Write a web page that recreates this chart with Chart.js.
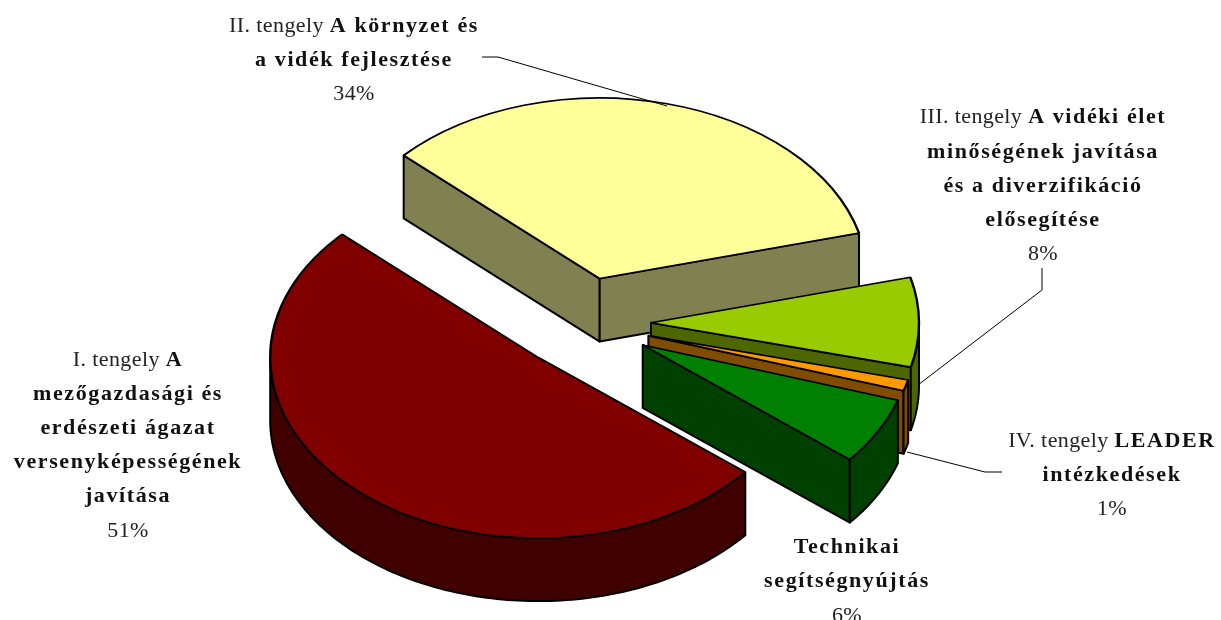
<!DOCTYPE html>
<html><head><meta charset="utf-8">
<style>html,body{margin:0;padding:0;background:#fff}#w{position:relative;width:1221px;height:620px;overflow:hidden}</style>
<script src="https://cdn.jsdelivr.net/npm/chart.js@4/dist/chart.umd.min.js"></script>
</head><body><div id="w"><canvas id="c" width="1221" height="620"></canvas></div>
<script>
const categories = ["II. tengely A környzet és a vidék fejlesztése","III. tengely A vidéki élet minőségének javítása és a diverzifikáció elősegítése","IV. tengely LEADER intézkedések","Technikai segítségnyújtás","I. tengely A mezőgazdasági és erdészeti ágazat versenyképességének javítása"];
const values = [34,8,1,6,51];
const topColors = ["#FFFF99","#99CC00","#FF9900","#008000","#800000"];
const sideColors = ["#808050","#4D6600","#804D00","#004000","#400000"];

const SQUASH=0.674, DEPTH=63, EXPLODE=68, RADIUS=268;

const pie3d={id:'pie3d',
 beforeDatasetDraw(chart,args){
  const ctx=chart.ctx, arcs=args.meta.data;
  const cy0=arcs[0].y;
  const P=(x,y)=>[x,cy0+(y-cy0)*SQUASH];
  arcs.forEach((arc,i)=>{
    const mid=(arc.startAngle+arc.endAngle)/2;
    const dx=Math.cos(mid)*EXPLODE, dy=Math.sin(mid)*EXPLODE;
    const ax=arc.x+dx, ay=arc.y+dy;
    const r=arc.outerRadius, a0=arc.startAngle, a1=arc.endAngle;
    ctx.save();
    ctx.fillStyle=sideColors[i];ctx.strokeStyle='#000';ctx.lineWidth=2;ctx.lineJoin='round';
    const face=pts=>{ctx.beginPath();pts.forEach((p,n)=>n?ctx.lineTo(p[0],p[1]):ctx.moveTo(p[0],p[1]));ctx.closePath();ctx.fill();ctx.stroke();};
    const edge=a=>{const t=P(ax+r*Math.cos(a),ay+r*Math.sin(a)),o=P(ax,ay);return [o,t,[t[0],t[1]+DEPTH],[o[0],o[1]+DEPTH]];};
    if(Math.cos(a0)<0)face(edge(a0));
    if(Math.cos(a1)>0)face(edge(a1));
    for(const k of [-2,0,2]){
      const s=Math.max(a0,k*Math.PI), e=Math.min(a1,(k+1)*Math.PI);
      if(e>s){
        const top=[];const n=Math.ceil((e-s)/0.02);
        for(let j=0;j<=n;j++){const a=s+(e-s)*j/n;top.push(P(ax+r*Math.cos(a),ay+r*Math.sin(a)));}
        face(top.concat(top.slice().reverse().map(p=>[p[0],p[1]+DEPTH])));
      }
    }
    ctx.restore();
    ctx.save();
    ctx.translate(0,cy0*(1-SQUASH));ctx.scale(1,SQUASH);
    ctx.translate(dx,dy);
    arc.draw(ctx);
    ctx.restore();
  });
  return false;
 }
};

const R=(t)=>({t,b:false}), B=(t)=>({t,b:true});
const labelBlocks=[
 {x:354,ys:[32,66,100],lines:[[R("II. tengely "),B("A környzet és")],[B("a vidék fejlesztése")],[R("34%")]]},
 {x:1043,ys:[123,158,192,226,260],lines:[[R("III. tengely "),B("A vidéki élet")],[B("minőségének javítása")],[B("és a diverzifikáció")],[B("elősegítése")],[R("8%")]]},
 {x:1112,ys:[447,481,515],lines:[[R("IV. tengely "),B("LEADER")],[B("intézkedések")],[R("1%")]]},
 {x:847,ys:[553,587,622],lines:[[B("Technikai")],[B("segítségnyújtás")],[R("6%")]]},
 {x:128,ys:[366,400,434,468,502,537],lines:[[R("I. tengely "),B("A")],[B("mezőgazdasági és")],[B("erdészeti ágazat")],[B("versenyképességének")],[B("javítása")],[R("51%")]]}
];
const leaders=[[[482,57],[498,57],[667,106]],[[1042,268],[1042,290],[918,385]],[[907,452],[985,472],[1002,472]]];
const labelsPlugin={id:'labelsPlugin',
 afterDraw(chart){
  const ctx=chart.ctx;ctx.save();
  ctx.strokeStyle='#000';ctx.lineWidth=1;
  leaders.forEach(l=>{ctx.beginPath();l.forEach((p,n)=>n?ctx.lineTo(p[0],p[1]):ctx.moveTo(p[0],p[1]));ctx.stroke();});
  ctx.textBaseline='alphabetic';ctx.textAlign='left';
  const setF=b=>{ctx.font=(b?'bold 22px':'22px')+' "Liberation Serif"';ctx.letterSpacing=b?'1.6px':'0.4px';ctx.fillStyle=b?'#111':'#222';};
  labelBlocks.forEach(bl=>{
    bl.lines.forEach((runs,li)=>{
      let w=0;runs.forEach(r=>{setF(r.b);w+=ctx.measureText(r.t).width;});
      let x=bl.x-w/2;
      runs.forEach(r=>{setF(r.b);ctx.fillText(r.t,x,bl.ys[li]);x+=ctx.measureText(r.t).width;});
    });
  });
  ctx.restore();
 }
};

new Chart(document.getElementById('c'),{
 type:'pie',
 data:{labels:categories,datasets:[{data:values,backgroundColor:topColors,borderColor:'#000',borderWidth:2.4,hoverOffset:0}]},
 options:{responsive:false,animation:false,events:[],rotation:-47,radius:RADIUS,
  layout:{padding:{left:0,right:55,top:26,bottom:0}},
  plugins:{legend:{display:false},tooltip:{enabled:false},title:{display:false}}},
 plugins:[pie3d,labelsPlugin]
});
</script></body></html>
